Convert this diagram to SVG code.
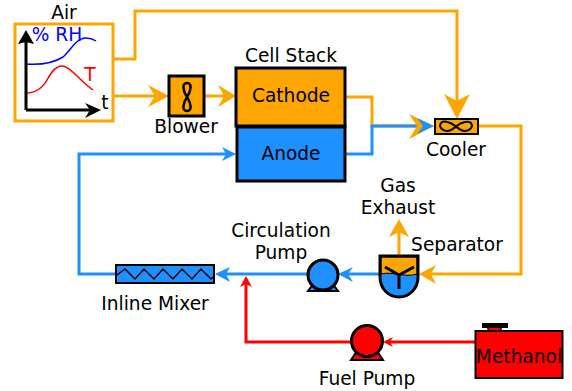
<svg xmlns="http://www.w3.org/2000/svg" width="572" height="391" viewBox="0 0 572 391">
<style>
text{font-family:"DejaVu Sans",sans-serif;font-size:18.600px;fill:#000;text-anchor:middle}
.o{fill:none;stroke:#ffa500;stroke-width:3}
.b{fill:none;stroke:#1e90ff;stroke-width:3}
.r{fill:none;stroke:#f00;stroke-width:3}
.k{stroke:#000;stroke-width:3}
.ko{fill:#ffa500}.kb{fill:#1e90ff}.kr{fill:#f00}
</style>
<rect width="572" height="391" fill="#fff"/>
<g id="connectors">
<path class="o" d="M114 59H135V11H457V101"/>
<path class="o" d="M114 96H156"/>
<path class="o" d="M204 96H225"/>
<path class="o" d="M345 97H372V126H417"/>
<path class="b" d="M345 154H372V126H424"/>
<path class="o" d="M478 126H521V274H431"/>
<path class="o" d="M399 256V232"/>
<path class="b" d="M379 274H348"/>
<path class="b" d="M308 274H226"/>
<path class="b" d="M116 274H79V154H226"/>
<path class="r" d="M476 342H390"/>
<path class="r" d="M352 342H246V284"/>
<polygon class="ko" points="169,96 148,85 155,96 148,107"/>
<polygon class="ko" points="236,96 218,85 224,96 218,107"/>
<polygon class="ko" points="457,119 444,94 457,101 470,94"/>
<polygon class="ko" points="434,126 409,114 417,126 409,139"/>
<polygon class="ko" points="419,274 436,265 431,274 436,284"/>
<polygon class="ko" points="399,219 389,237 399,232 409,237"/>
<polygon class="kb" points="434,126 417,118 423,126 417,134"/>
<polygon class="kb" points="338,274 353,267 348,274 353,282"/>
<polygon class="kb" points="215,274 230,267 226,274 230,282"/>
<polygon class="kb" points="236,154 222,147 226,154 222,161"/>
<polygon class="kr" points="383,342 393,337 390,342 393,347"/>
<polygon class="kr" points="246,276 240,287 246,284 252,287"/>
</g>
<g id="air">
<rect x="15" y="24" width="98" height="97" fill="#fff" stroke="#ffa500" stroke-width="3"/>
<path d="M26 64C40 65 52 64 63 57C71 50 76 38 86 38C90 38 93 39 96 41" fill="none" stroke="#00f" stroke-width="1.500"/>
<path d="M26 93C36 93 42 89 47 80C52 71 56 66 62 66C70 66 78 79 93 90" fill="none" stroke="#f00" stroke-width="1.500"/>
<path d="M26 110V40M26 110H90" fill="none" stroke="#000" stroke-width="3"/>
<polygon points="26,30 18,44 26,42 34,44"/>
<polygon points="101,110 85,103 90,110 85,118"/>
<text x="64" y="19">Air</text>
<text x="57" y="41" style="fill:#00f">% RH</text>
<text x="90" y="81" style="fill:#f00">T</text>
<text x="105" y="109">t</text>
</g>
<g id="blower">
<rect x="169" y="76" width="35" height="40" class="ko k"/>
<path d="M187 97C183 91 181.500 83 187 83C192.500 83 191 91 187 97C183 103 181.500 111 187 111C192.500 111 191 103 187 97Z" fill="none" stroke="#000" stroke-width="2.500"/>
<text x="186" y="133">Blower</text>
</g>
<g id="cell-stack">
<rect x="236" y="68" width="109" height="58" class="ko k"/>
<rect x="237" y="127" width="108" height="54" class="kb k"/>
<text x="291" y="62">Cell Stack</text>
<text x="291" y="102">Cathode</text>
<text x="291" y="160">Anode</text>
</g>
<g id="cooler">
<rect x="435" y="119" width="43" height="15" class="ko" stroke="#000" stroke-width="2"/>
<path d="M456 126.500C451 122 443 120 441 123C438 127 443 131 447 131C451 131 453 129 456 126.500C460 123 468 120 471 123C474 127 469 131 465 131C461 131 459 129 456 126.500Z" fill="none" stroke="#000" stroke-width="2"/>
<text x="456" y="156">Cooler</text>
</g>
<g id="separator">
<path d="M380 256H418V277C418 289 409 297 399 297C389 297 380 289 380 277Z" class="kb"/>
<path d="M381 257H417V274C405 278 393 271 381 274Z" class="ko" stroke="#000" stroke-width="1"/>
<path d="M380 256H418V277C418 289 409 297 399 297C389 297 380 289 380 277Z" fill="none" stroke="#000" stroke-width="3"/>
<path d="M385 267L399 275L414 267M399 275V289" fill="none" stroke="#000" stroke-width="3"/>
<text x="457" y="251">Separator</text>
<text x="398" y="192">Gas</text>
<text x="398" y="214">Exhaust</text>
</g>
<g id="circulation-pump">
<polygon points="308,291 338,291 332,283 314,283" class="kb" stroke="#000" stroke-width="2"/>
<circle cx="323" cy="275" r="15" class="kb k"/>
<text x="281" y="237">Circulation</text>
<text x="281" y="259">Pump</text>
</g>
<g id="inline-mixer">
<rect x="116" y="265" width="98" height="18" class="kb" stroke="#000" stroke-width="2"/>
<path d="M117 275L125 269L135 279L144 269L154 279L163 269L173 279L182 269L192 279L201 269L211 279L213 277" fill="none" stroke="#000" stroke-width="1.500"/>
<text x="155" y="310">Inline Mixer</text>
</g>
<g id="fuel-pump">
<polygon points="351,360 383,360 377,351 357,351" class="kr" stroke="#000" stroke-width="2"/>
<circle cx="367" cy="341" r="15.500" class="kr k"/>
<text x="367" y="385">Fuel Pump</text>
</g>
<g id="methanol">
<rect x="483" y="324" width="24" height="3" stroke="#000" stroke-width="2"/>
<rect x="488" y="327" width="13" height="4" class="kr" stroke="#000" stroke-width="1.500"/>
<rect x="475.500" y="331" width="87" height="47" class="kr" stroke="#000" stroke-width="2"/>
<text x="519" y="363">Methanol</text>
</g>
</svg>
